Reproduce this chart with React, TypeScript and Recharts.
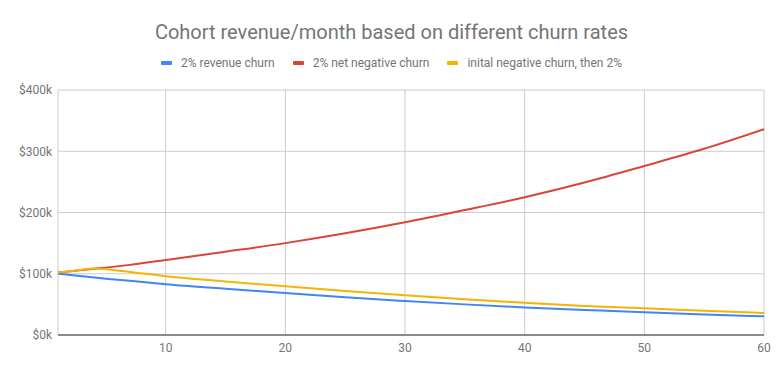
import { LineChart, Line, XAxis, YAxis, CartesianGrid } from 'recharts';

// values (in $k)
const months = [1, 2, 3, 4, 5, 7, 10, 15, 20, 25, 30, 35, 40, 45, 50, 55, 60];
const revenueChurn = [100, 98, 96, 94, 92, 88.5, 83, 75.5, 68.5, 61.5, 55.5, 50, 45, 41, 37, 33.5, 30.5];
const netNegativeChurn = [102, 104, 106, 108, 110, 114.5, 122.5, 136, 150, 166, 184, 204, 225, 249, 276, 304, 336];
const initialNegativeChurn = [102, 104, 106.5, 108.5, 107.5, 103, 96, 87.5, 79.5, 72, 65, 58.5, 52.5, 47.5, 43.5, 39.5, 36];

const xTicks = [10, 20, 30, 40, 50, 60];
const yTicks = [0, 100, 200, 300, 400];

const seriesNames = ['2% revenue churn', '2% net negative churn', 'inital negative churn, then 2%'];
const colors = ['#4285F4', '#DB4437', '#F4B400'];

const data = months.map((m, i) => ({
  month: m,
  a: revenueChurn[i],
  b: netNegativeChurn[i],
  c: initialNegativeChurn[i],
}));

const font = 'Roboto, "Noto Sans", sans-serif';
const textColor = '#757575';

export default function App() {
  return (
    <div
      style={{
        position: 'absolute',
        left: 0,
        top: 0,
        width: 783,
        height: 375,
        background: '#fff',
        fontFamily: font,
      }}
    >
      <div
        style={{
          position: 'absolute',
          top: 19,
          left: 0,
          width: 783,
          textAlign: 'center',
          fontSize: 20,
          color: textColor,
          lineHeight: '26px',
        }}
      >
        Cohort revenue/month based on different churn rates
      </div>
      <div
        style={{
          position: 'absolute',
          top: 55,
          left: 0,
          width: 783,
          display: 'flex',
          justifyContent: 'center',
          gap: 18,
          fontSize: 12,
          color: textColor,
          lineHeight: '16px',
        }}
      >
        {seriesNames.map((name, i) => (
          <div key={name} style={{ display: 'flex', alignItems: 'center' }}>
            <span
              style={{
                display: 'inline-block',
                width: 11,
                height: 4,
                borderRadius: 1,
                background: colors[i],
                marginRight: 9,
              }}
            />
            {name}
          </div>
        ))}
      </div>
      <LineChart
        width={783}
        height={375}
        data={data}
        margin={{ top: 90, right: 19, bottom: 10, left: 0 }}
      >
        <CartesianGrid stroke="#cccccc" />
        <XAxis
          dataKey="month"
          type="number"
          domain={[1, 60]}
          ticks={xTicks}
          height={30}
          tickLine={false}
          axisLine={{ stroke: '#333333' }}
          tick={{ fill: textColor, fontSize: 12, fontFamily: font }}
        />
        <YAxis
          domain={[0, 400]}
          ticks={yTicks}
          width={58}
          tickLine={false}
          axisLine={false}
          tickMargin={0}
          tickFormatter={(v: number) => `$${v}k`}
          tick={{ fill: textColor, fontSize: 12, fontFamily: font }}
        />
        <Line type="monotone" dataKey="a" stroke={colors[0]} strokeWidth={2} dot={false} isAnimationActive={false} />
        <Line type="monotone" dataKey="b" stroke={colors[1]} strokeWidth={2} dot={false} isAnimationActive={false} />
        <Line type="monotone" dataKey="c" stroke={colors[2]} strokeWidth={2} dot={false} isAnimationActive={false} />
      </LineChart>
    </div>
  );
}
